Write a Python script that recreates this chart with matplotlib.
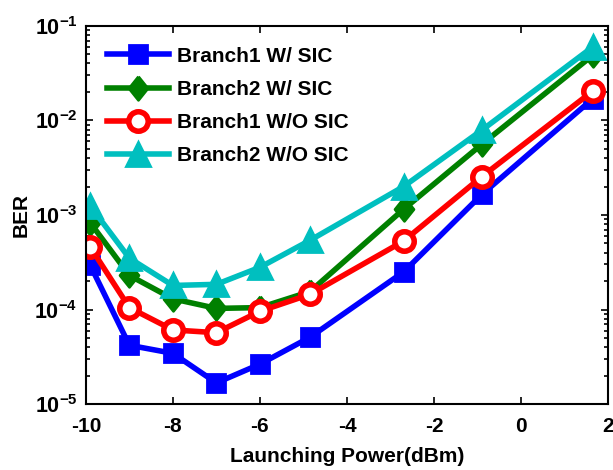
import numpy as np
import matplotlib
matplotlib.use('Agg')
import matplotlib.pyplot as plt
from matplotlib.ticker import FixedLocator, FuncFormatter, LogLocator, NullFormatter

plt.rcParams['font.family'] = 'Liberation Sans'
plt.rcParams['font.weight'] = 'bold'
plt.rcParams['mathtext.fontset'] = 'custom'
plt.rcParams['mathtext.rm'] = 'Liberation Sans:bold'
plt.rcParams['mathtext.bf'] = 'Liberation Sans:bold'
plt.rcParams['axes.unicode_minus'] = False

# launching power (dBm)
power = [-9.9, -9.0, -8.0, -7.0, -6.0, -4.85, -2.7, -0.9, 1.65]

# BER values
ber_b1_sic = [2.96e-4, 4.2e-5, 3.45e-5, 1.68e-5, 2.65e-5, 5.1e-5, 2.5e-4, 1.65e-3, 1.7e-2]
ber_b2_sic = [8.3e-4, 2.3e-4, 1.3e-4, 1.03e-4, 1.05e-4, 1.55e-4, 1.15e-3, 5.6e-3, 4.9e-2]
ber_b1_nosic = [4.6e-4, 1.05e-4, 6.1e-5, 5.7e-5, 9.6e-5, 1.45e-4, 5.3e-4, 2.55e-3, 2.05e-2]
ber_b2_nosic = [1.25e-3, 3.5e-4, 1.8e-4, 1.85e-4, 2.8e-4, 5.4e-4, 2.0e-3, 7.9e-3, 6.0e-2]

labels = ['Branch1 W/ SIC', 'Branch2 W/ SIC', 'Branch1 W/O SIC', 'Branch2 W/O SIC']

# slightly wider diamond than matplotlib's thin 'd'
diamond = [(0, 1), (0.8, 0), (0, -1), (-0.8, 0), (0, 1)]

fig = plt.figure(figsize=(6.13, 4.7), dpi=100)
ax = fig.add_axes([0.140, 0.140, 0.852, 0.805])

ax.plot(power, ber_b1_sic, color='#0000ff', lw=4, marker='s', ms=13, mfc='#0000ff', mew=2, label=labels[0])
ax.plot(power, ber_b2_sic, color='#008000', lw=4, marker=diamond, ms=17, mfc='#008000', mew=2, label=labels[1])
ax.plot(power, ber_b1_nosic, color='#ff0000', lw=4, marker='o', ms=14, mfc='white', mew=4, label=labels[2])
ax.plot(power, ber_b2_nosic, color='#00bfbf', lw=4, marker='^', ms=17, mfc='#00bfbf', mew=2, label=labels[3])

ax.set_yscale('log')
ax.set_xlim(-10, 2)
ax.set_ylim(1e-5, 1e-1)
ax.xaxis.set_major_locator(FixedLocator([-10, -8, -6, -4, -2, 0, 2]))
ax.yaxis.set_major_locator(LogLocator(base=10, numticks=10))
ax.yaxis.set_minor_locator(LogLocator(base=10, subs=np.arange(2, 10), numticks=10))
ax.yaxis.set_minor_formatter(NullFormatter())
ax.yaxis.set_major_formatter(FuncFormatter(lambda v, p: r'$\mathbf{10^{%d}}$' % int(round(np.log10(v)))))

ax.tick_params(which='both', direction='in', top=True, right=True, width=1.2)
ax.tick_params(axis='x', labelsize=15, pad=9)
ax.tick_params(axis='y', labelsize=15.5, pad=6)
ax.tick_params(which='major', length=5)
ax.tick_params(which='minor', length=3)
for s in ax.spines.values():
    s.set_linewidth(1.5)

ax.set_xlabel('Launching Power(dBm)', fontsize=15, fontweight='bold', labelpad=8)
ax.set_ylabel('BER', fontsize=15, fontweight='bold')
ax.yaxis.set_label_coords(-0.105, 0.5)

ax.legend(loc='upper left', frameon=False, fontsize=15, handlelength=3.0,
          labelspacing=0.68, borderaxespad=0.6, handletextpad=0.4)

fig.savefig('out.png', dpi=100)
